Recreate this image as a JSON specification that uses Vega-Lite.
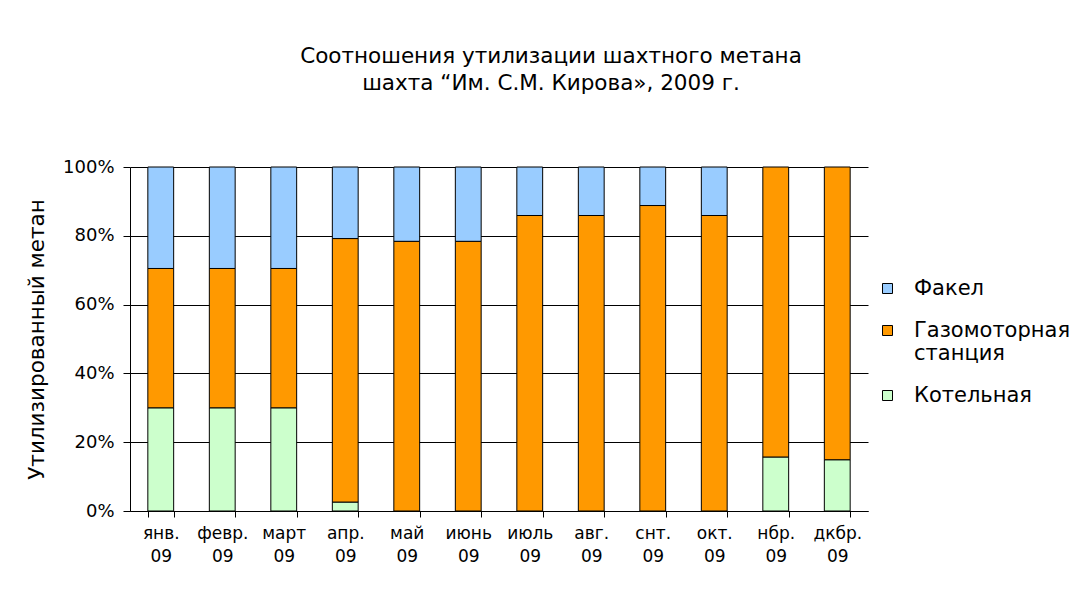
{
  "$schema": "https://vega.github.io/schema/vega-lite/v6.json",
  "width": 738,
  "height": 344,
  "autosize": "none",
  "padding": {"left": 130, "top": 167, "right": 213, "bottom": 99},
  "background": "white",
  "title": {
    "text": ["Соотношения утилизации шахтного метана", "шахта “Им. С.М. Кирова», 2009 г."],
    "font": "DejaVu Sans",
    "fontSize": 21.5,
    "fontWeight": "normal",
    "color": "black",
    "anchor": "middle",
    "frame": "group",
    "baseline": "alphabetic",
    "lineHeight": 27,
    "dx": 52,
    "offset": 47
  },
  "data": {
    "values": [
      {"month": "янв. 09", "type": "Котельная", "value": 30},
      {"month": "янв. 09", "type": "Газомоторная станция", "value": 40.5},
      {"month": "янв. 09", "type": "Факел", "value": 29.5},
      {"month": "февр. 09", "type": "Котельная", "value": 30},
      {"month": "февр. 09", "type": "Газомоторная станция", "value": 40.5},
      {"month": "февр. 09", "type": "Факел", "value": 29.5},
      {"month": "март 09", "type": "Котельная", "value": 30},
      {"month": "март 09", "type": "Газомоторная станция", "value": 40.5},
      {"month": "март 09", "type": "Факел", "value": 29.5},
      {"month": "апр. 09", "type": "Котельная", "value": 2.6},
      {"month": "апр. 09", "type": "Газомоторная станция", "value": 76.6},
      {"month": "апр. 09", "type": "Факел", "value": 20.8},
      {"month": "май 09", "type": "Котельная", "value": 0},
      {"month": "май 09", "type": "Газомоторная станция", "value": 78.4},
      {"month": "май 09", "type": "Факел", "value": 21.6},
      {"month": "июнь 09", "type": "Котельная", "value": 0},
      {"month": "июнь 09", "type": "Газомоторная станция", "value": 78.4},
      {"month": "июнь 09", "type": "Факел", "value": 21.6},
      {"month": "июль 09", "type": "Котельная", "value": 0},
      {"month": "июль 09", "type": "Газомоторная станция", "value": 85.9},
      {"month": "июль 09", "type": "Факел", "value": 14.1},
      {"month": "авг. 09", "type": "Котельная", "value": 0},
      {"month": "авг. 09", "type": "Газомоторная станция", "value": 85.9},
      {"month": "авг. 09", "type": "Факел", "value": 14.1},
      {"month": "снт. 09", "type": "Котельная", "value": 0},
      {"month": "снт. 09", "type": "Газомоторная станция", "value": 88.8},
      {"month": "снт. 09", "type": "Факел", "value": 11.2},
      {"month": "окт. 09", "type": "Котельная", "value": 0},
      {"month": "окт. 09", "type": "Газомоторная станция", "value": 85.9},
      {"month": "окт. 09", "type": "Факел", "value": 14.1},
      {"month": "нбр. 09", "type": "Котельная", "value": 15.7},
      {"month": "нбр. 09", "type": "Газомоторная станция", "value": 84.3},
      {"month": "нбр. 09", "type": "Факел", "value": 0},
      {"month": "дкбр. 09", "type": "Котельная", "value": 14.9},
      {"month": "дкбр. 09", "type": "Газомоторная станция", "value": 85.1},
      {"month": "дкбр. 09", "type": "Факел", "value": 0}
    ]
  },
  "transform": [
    {"calculate": "indexof(['Котельная','Газомоторная станция','Факел'], datum.type)", "as": "stackOrder"},
    {"filter": "datum.value > 0"}
  ],
  "mark": {"type": "bar", "stroke": "black", "strokeWidth": 1},
  "encoding": {
    "x": {
      "field": "month",
      "type": "nominal",
      "sort": null,
      "scale": {"paddingInner": 0.58, "paddingOuter": 0.29},
      "axis": {
        "title": null,
        "labelAngle": 0,
        "labelExpr": "split(datum.label, ' ')",
        "labelFont": "DejaVu Sans",
        "labelFontSize": 17,
        "labelColor": "black",
        "labelLineHeight": 23,
        "labelPadding": 8,
        "labelBaseline": "top",
        "tickBand": "extent",
        "tickSize": 6,
        "tickColor": "black",
        "domainColor": "black",
        "grid": false
      }
    },
    "y": {
      "field": "value",
      "type": "quantitative",
      "stack": "normalize",
      "axis": {
        "title": "Утилизированный метан",
        "titleFont": "DejaVu Sans",
        "titleFontSize": 21.5,
        "titleFontWeight": "normal",
        "titleColor": "black",
        "titlePadding": 14,
        "format": ".0%",
        "values": [0, 0.2, 0.4, 0.6, 0.8, 1],
        "labelFont": "DejaVu Sans",
        "labelFontSize": 18,
        "labelColor": "black",
        "labelPadding": 9,
        "tickSize": 7,
        "tickColor": "black",
        "domainColor": "black",
        "grid": true,
        "gridColor": "black",
        "gridOpacity": 1,
        "gridWidth": 1
      }
    },
    "color": {
      "field": "type",
      "type": "nominal",
      "scale": {
        "domain": ["Факел", "Газомоторная станция", "Котельная"],
        "range": ["#99CCFF", "#FF9900", "#CCFFCC"]
      },
      "legend": {
        "title": null,
        "orient": "none",
        "legendX": 747,
        "legendY": 111,
        "symbolType": "square",
        "symbolSize": 100,
        "symbolStrokeColor": "black",
        "symbolStrokeWidth": 1,
        "symbolOpacity": 1,
        "labelFont": "DejaVu Sans",
        "labelFontSize": 21,
        "labelColor": "black",
        "labelOffset": 16,
        "labelLimit": 300,
        "labelLineHeight": 25,
        "rowPadding": 20,
        "labelExpr": "datum.label == 'Газомоторная станция' ? [' Газомоторная', 'станция'] : datum.label"
      }
    },
    "order": {"field": "stackOrder", "type": "quantitative"}
  },
  "config": {
    "view": {"stroke": null}
  }
}
